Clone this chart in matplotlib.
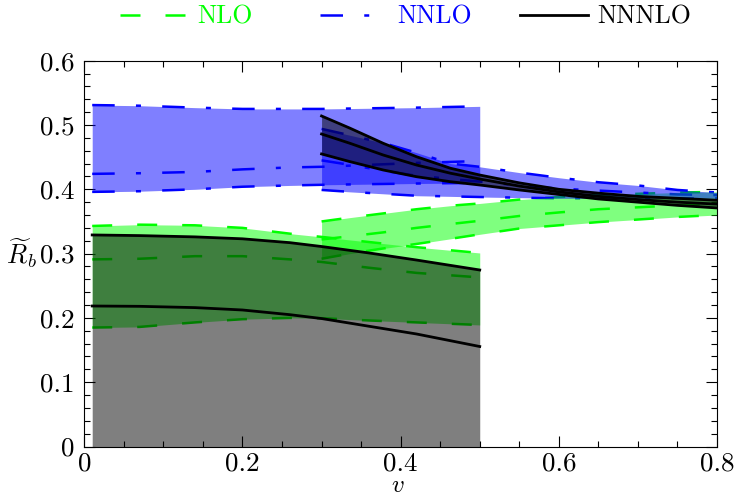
import numpy as np
import matplotlib
matplotlib.use("Agg")
import matplotlib.pyplot as plt
from matplotlib.lines import Line2D
from matplotlib.ticker import MultipleLocator, FuncFormatter

plt.rcParams["font.family"] = "serif"
plt.rcParams["font.serif"] = ["cmr10", "DejaVu Serif"]
plt.rcParams["mathtext.fontset"] = "cm"
plt.rcParams["axes.formatter.use_mathtext"] = True

# low-v region
v_lo = [0.01, 0.07, 0.14, 0.2, 0.26, 0.3, 0.36, 0.42, 0.5]
nlo_lo_up = [0.343, 0.345, 0.344, 0.340, 0.331, 0.326, 0.318, 0.310, 0.301]
nlo_lo_mid = [0.291, 0.292, 0.296, 0.296, 0.291, 0.287, 0.278, 0.270, 0.263]
nlo_lo_dn = [0.185, 0.186, 0.193, 0.198, 0.200, 0.1995, 0.196, 0.193, 0.189]
nnlo_lo_up = [0.531, 0.530, 0.527, 0.525, 0.525, 0.525, 0.526, 0.527, 0.529]
nnlo_lo_mid = [0.424, 0.425, 0.427, 0.431, 0.434, 0.435, 0.438, 0.441, 0.444]
nnlo_lo_dn = [0.396, 0.397, 0.400, 0.404, 0.406, 0.407, 0.408, 0.409, 0.410]
n3lo_lo_up = [0.329, 0.328, 0.326, 0.323, 0.317, 0.311, 0.301, 0.290, 0.2745]
n3lo_lo_dn = [0.2185, 0.218, 0.216, 0.2123, 0.205, 0.199, 0.187, 0.175, 0.1555]

# high-v region
v_hi = [0.3, 0.336, 0.378, 0.42, 0.463, 0.5, 0.55, 0.6, 0.65, 0.7, 0.75, 0.8]
nlo_hi_up = [0.350, 0.356, 0.3625, 0.369, 0.3745, 0.378, 0.384, 0.388, 0.391, 0.393, 0.395, 0.396]
nlo_hi_mid = [0.322, 0.327, 0.333, 0.340, 0.346, 0.351, 0.3585, 0.364, 0.369, 0.372, 0.375, 0.377]
nlo_hi_dn = [0.292, 0.300, 0.308, 0.315, 0.323, 0.330, 0.339, 0.344, 0.349, 0.353, 0.357, 0.360]
nnlo_hi_up = [0.494, 0.484, 0.472, 0.457, 0.440, 0.435, 0.426, 0.418, 0.411, 0.406, 0.399, 0.395]
nnlo_hi_mid = [0.445, 0.438, 0.429, 0.421, 0.416, 0.412, 0.406, 0.401, 0.398, 0.395, 0.392, 0.391]
nnlo_hi_dn = [0.399, 0.396, 0.393, 0.390, 0.389, 0.388, 0.387, 0.386, 0.386, 0.386, 0.386, 0.386]
n3lo_hi_up = [0.514, 0.495, 0.4715, 0.4507, 0.4327, 0.4222, 0.410, 0.400, 0.394, 0.389, 0.386, 0.383]
n3lo_hi_mid = [0.486, 0.4715, 0.4533, 0.4378, 0.425, 0.416, 0.405, 0.396, 0.389, 0.384, 0.380, 0.377]
n3lo_hi_dn = [0.455, 0.443, 0.430, 0.4196, 0.4118, 0.4067, 0.399, 0.392, 0.385, 0.380, 0.375, 0.371]

labels = ["NLO", "NNLO", "NNNLO"]

green = "#00ff00"
blue = "#0000ff"
dash_nlo = (0, (8, 10))
dash_nnlo = (0, (9, 8.5, 2, 8.5))
lw = 1.8

fig = plt.figure(figsize=(7.34, 4.98), dpi=100)
ax = fig.add_axes([84.3/734, 1-446.5/498, (717-84.3)/734, (446.5-60.7)/498])

# lines first, fills drawn over them
for v, ys in [(v_lo, [nlo_lo_up, nlo_lo_mid, nlo_lo_dn]), (v_hi, [nlo_hi_up, nlo_hi_mid, nlo_hi_dn])]:
	for y in ys:
		ax.plot(v, y, color=green, lw=lw, linestyle=dash_nlo, zorder=1)
for v, ys in [(v_lo, [nnlo_lo_up, nnlo_lo_mid, nnlo_lo_dn]), (v_hi, [nnlo_hi_up, nnlo_hi_mid, nnlo_hi_dn])]:
	for y in ys:
		ax.plot(v, y, color=blue, lw=lw, linestyle=dash_nnlo, zorder=1)

ax.fill_between(v_lo, nlo_lo_dn, nlo_lo_up, color=green, alpha=0.5, lw=0, zorder=2)
ax.fill_between(v_hi, nlo_hi_dn, nlo_hi_up, color=green, alpha=0.5, lw=0, zorder=2)
ax.fill_between(v_lo, nnlo_lo_dn, nnlo_lo_up, color=blue, alpha=0.5, lw=0, zorder=2)
ax.fill_between(v_hi, nnlo_hi_dn, nnlo_hi_up, color=blue, alpha=0.5, lw=0, zorder=2)
ax.fill_between(v_lo, 0, n3lo_lo_up, color="black", alpha=0.5, lw=0, zorder=2)
ax.fill_between(v_hi, n3lo_hi_dn, n3lo_hi_up, color="black", alpha=0.5, lw=0, zorder=2)

for y in [n3lo_lo_up, n3lo_lo_dn]:
	ax.plot(v_lo, y, color="black", lw=2.0, zorder=3)
for y in [n3lo_hi_up, n3lo_hi_mid, n3lo_hi_dn]:
	ax.plot(v_hi, y, color="black", lw=2.0, zorder=3)

ax.set_xlim(0, 0.8)
ax.set_ylim(0, 0.6)
ax.xaxis.set_major_locator(MultipleLocator(0.2))
ax.xaxis.set_minor_locator(MultipleLocator(0.05))
ax.yaxis.set_major_locator(MultipleLocator(0.1))
ax.yaxis.set_minor_locator(MultipleLocator(0.02))
fmt = FuncFormatter(lambda x, p: "0" if abs(x) < 1e-9 else f"{x:.1f}")
ax.xaxis.set_major_formatter(fmt)
ax.yaxis.set_major_formatter(fmt)
ax.tick_params(which="both", direction="in", top=True, right=True, labelsize=19.5, width=0.8)
ax.tick_params(which="major", length=8)
ax.tick_params(which="minor", length=4)
ax.tick_params(axis="x", pad=4)
ax.tick_params(axis="y", pad=7)
for s in ax.spines.values():
	s.set_linewidth(0.8)

ax.set_xlabel(r"$v$", fontsize=18, va="center")
ax.xaxis.set_label_coords(0.496, -0.103)
ax.set_ylabel(r"$\widetilde{R}_b$", fontsize=19, rotation=0, va="center", ha="center")
ax.yaxis.set_label_coords(-0.1, 0.5)

handles = [
	Line2D([], [], color=green, lw=lw, linestyle=dash_nlo),
	Line2D([], [], color=blue, lw=lw, linestyle=dash_nnlo),
	Line2D([], [], color="black", lw=2.0),
]
colors = [green, blue, "black"]
x_starts = [120, 320, 520]
for h, lab, c, x0 in zip(handles, labels, colors, x_starts):
	leg = fig.legend([h], [lab], loc="center left", bbox_to_anchor=(x0/734, 1-17/498),
		frameon=False, fontsize=18.5, handlelength=2.65, handletextpad=0.35,
		borderaxespad=0, borderpad=0)
	leg.get_texts()[0].set_color(c)

fig.savefig("out.png", dpi=100)
